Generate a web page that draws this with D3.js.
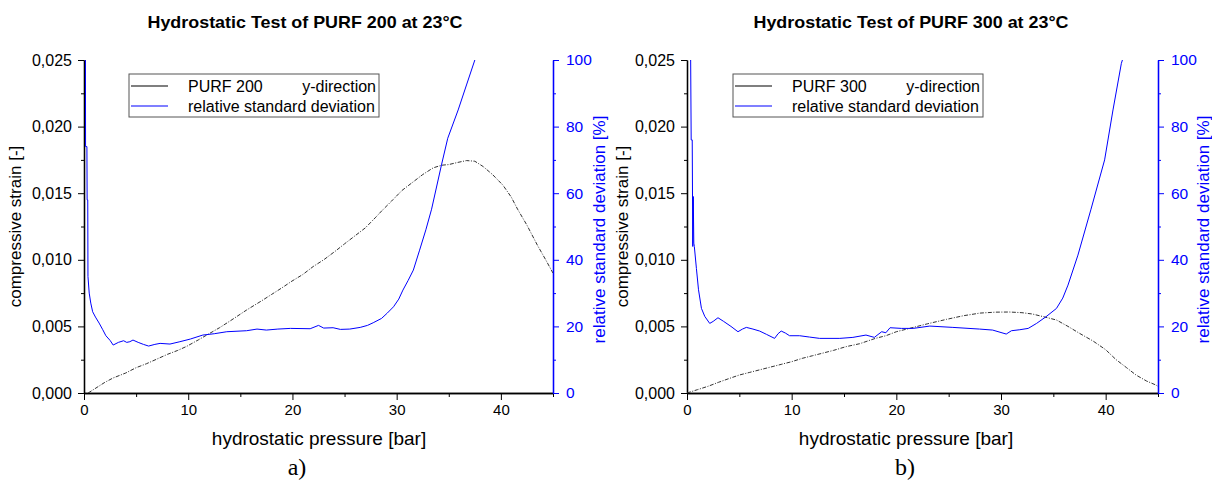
<!DOCTYPE html>
<html>
<head>
<meta charset="utf-8">
<script src="https://cdn.jsdelivr.net/npm/d3@7"></script>
<style>
  body { margin: 0; background: #fff; }
</style>
</head>
<body>
<div id="chart"></div>
<script>
// ---- data ----
const pressureTicks = [0, 10, 20, 30, 40];
const pressureMinor = [5, 15, 25, 35, 45];
const strainTicks = [0, 0.005, 0.010, 0.015, 0.020, 0.025];
const strainMinor = [0.0025, 0.0075, 0.0125, 0.0175, 0.0225];
const rsdTicks = [0, 20, 40, 60, 80, 100];
const rsdMinor = [10, 30, 50, 70, 90];

// PURF 200, compressive strain in y-direction
const p200StrainX = [0.4, 1, 2, 2.8, 4, 5, 6, 7, 8, 9, 9.85, 11, 12, 13, 14, 15.6, 17, 18, 19, 19.95,
  21, 22, 23, 24.2, 25, 26, 27, 28, 28.6, 29.5, 30.5, 31.5, 32.5, 33.5, 34.3, 35, 35.8, 36.7, 37.5,
  38.3, 39.2, 40.2, 41, 41.6, 42.5, 43.5, 44.3, 45];
const p200Strain = [0, 0.0003, 0.0008, 0.00113, 0.0015, 0.0019, 0.0022, 0.00255, 0.0029, 0.0032, 0.0035,
  0.0040, 0.00445, 0.0049, 0.0054, 0.00623, 0.0069, 0.0074, 0.0079, 0.0084,
  0.0089, 0.0095, 0.0100, 0.0107, 0.0112, 0.0118, 0.0124, 0.0132, 0.0137, 0.0144, 0.0152, 0.0158, 0.0164,
  0.0169, 0.0171, 0.01715, 0.0173, 0.01745, 0.0174, 0.0170, 0.0164, 0.0156, 0.0147, 0.0138, 0.0126,
  0.0111, 0.0100, 0.0090];

// PURF 200, relative standard deviation
const p200RsdX = [0.1, 0.14, 0.15, 0.28, 0.3, 0.36, 0.38, 0.5, 0.65, 0.83, 1.1, 1.45, 1.8, 2.1, 2.5, 2.8,
  3.3, 3.8, 4.1, 4.4, 4.7, 5.2, 5.7, 6.2, 6.8, 7.3, 8.25, 9.2, 10.2, 11.4, 12.5, 13.7, 15.6, 16.6, 17.5,
  18.6, 19.8, 21.7, 22.5, 23, 23.9, 24.6, 25.5, 26.5, 27.2, 27.75, 28.55, 29.1, 29.7, 30.2, 30.6, 31.1,
  31.6, 32.2, 32.8, 33.35, 34.3, 34.9, 35.9, 36.7, 37.5];
const p200Rsd = [100, 100, 74, 74, 58, 58, 35, 30, 27, 24.4, 22.8, 21, 19, 17.2, 15.8, 14.4,
  15.2, 15.7, 15.2, 15.4, 15.9, 15.2, 14.6, 14.1, 14.6, 14.9, 14.7, 15.4, 16.2, 17.4, 17.8, 18.4, 18.7,
  19.2, 18.9, 19.2, 19.4, 19.3, 20.3, 19.5, 19.6, 19.1, 19.2, 19.7, 20.3, 21.1, 22.4, 24, 25.9, 28.2,
  30.9, 33.8, 36.9, 42.9, 49, 55.2, 68.5, 76.5, 85, 92.5, 100];

// PURF 300, compressive strain in y-direction
const p300StrainX = [0, 1, 2, 3, 4, 5, 6, 7, 8, 9, 10, 11, 12, 13, 14, 15.2, 16.5, 18, 19, 20, 21.5, 23,
  24.8, 26.4, 28, 29.5, 30.8, 32, 33, 34.2, 35.3, 36.4, 37.5, 38.8, 40, 41, 42, 42.9, 43.9, 44.8, 45];
const p300Strain = [0, 0.00025, 0.0005, 0.0008, 0.00108, 0.00135, 0.00155, 0.00175, 0.00195, 0.00215,
  0.00235, 0.0026, 0.0028, 0.0030, 0.0032, 0.00348, 0.0037, 0.0041, 0.0043, 0.0046, 0.0049, 0.0052,
  0.00553, 0.0058, 0.0060, 0.00607, 0.00608, 0.00603, 0.00593, 0.0057, 0.00548, 0.0050, 0.00448,
  0.0039, 0.00325, 0.0025, 0.0019, 0.00135, 0.0009, 0.0006, 0.0005];

// PURF 300, relative standard deviation
const p300RsdX = [0.3, 0.35, 0.4, 0.5, 0.55, 0.6, 0.65, 0.7, 0.9, 1.1, 1.38, 1.7, 2.17, 2.5, 2.96, 3.5,
  4.2, 4.87, 5.3, 5.67, 6.3, 6.94, 7.6, 8.37, 8.7, 9.0, 9.4, 9.8, 10.76, 11.7, 12.67, 14.6, 15.85, 17.1,
  17.9, 18.6, 19.0, 19.4, 20.5, 21.6, 23.2, 25.4, 27.95, 29.2, 30.5, 31.0, 31.8, 32.6, 33.4, 34.3, 35.3,
  35.9, 36.4, 37.35, 38.6, 39.9, 40.7, 41.5, 41.6];
const p300Rsd = [100, 100, 76, 76, 44, 59, 45, 44, 37.4, 31, 25.4, 23, 20.9, 21.5, 22.6, 21.5,
  20, 18.4, 19.2, 19.7, 19.2, 18.6, 17.6, 16.4, 17.8, 18.6, 18, 17.2, 17.2, 16.8, 16.4, 16.4, 16.7, 17.4,
  16.7, 18.4, 18.1, 19.6, 19.4, 19.4, 20.1, 19.7, 19.2, 18.9, 17.7, 18.7, 19, 19.4, 20.9, 22.9, 25.4,
  28.5, 32.4, 41.4, 55.2, 70, 85, 99, 100];

// ---- layout ----
const width = 1212, height = 482;
const plotTop = 60, plotBottom = 393;
const blue = '#0000ff';
const font = '"Liberation Sans", Arial, sans-serif';

const svg = d3.select('#chart').append('svg')
  .attr('width', width)
  .attr('height', height)
  .style('font-family', font);

const commaLocale = d3.formatLocale({decimal: ',', thousands: '.', grouping: [3], currency: ['', '']});
const strainFormat = commaLocale.format('.3f');

function zip(xs, ys) {
  return xs.map(function(d, i) { return {x: d, y: ys[i]}; });
}

function drawPanel(p) {
  let xScale = d3.scaleLinear().domain([0, 45]).range([p.left, p.right]);
  let yStrain = d3.scaleLinear().domain([0, 0.025]).range([plotBottom, plotTop]);
  let yRsd = d3.scaleLinear().domain([0, 100]).range([plotBottom, plotTop]);

  let g = svg.append('g');

  g.append('clipPath').attr('id', p.id + '-clip')
    .append('rect')
    .attr('x', p.left).attr('y', plotTop)
    .attr('width', p.right - p.left).attr('height', plotBottom - plotTop);

  // axes: minor ticks first, then majors with labels
  g.append('g')
    .attr('transform', 'translate(0,' + plotBottom + ')')
    .call(d3.axisBottom(xScale).tickValues(pressureMinor).tickSize(4).tickSizeOuter(0).tickFormat(''));
  g.append('g')
    .attr('class', 'xaxis')
    .attr('transform', 'translate(0,' + plotBottom + ')')
    .call(d3.axisBottom(xScale).tickValues(pressureTicks).tickSize(7).tickSizeOuter(0).tickPadding(4));

  g.append('g')
    .attr('transform', 'translate(' + p.left + ',0)')
    .call(d3.axisLeft(yStrain).tickValues(strainMinor).tickSize(3).tickSizeOuter(0).tickFormat(''));
  g.append('g')
    .attr('class', 'yaxis')
    .attr('transform', 'translate(' + p.left + ',0)')
    .call(d3.axisLeft(yStrain).tickValues(strainTicks).tickSize(6).tickSizeOuter(0).tickPadding(6)
      .tickFormat(strainFormat));

  g.append('g')
    .attr('color', blue)
    .attr('transform', 'translate(' + p.right + ',0)')
    .call(d3.axisRight(yRsd).tickValues(rsdMinor).tickSize(3).tickSizeOuter(0).tickFormat(''));
  g.append('g')
    .attr('class', 'raxis')
    .attr('color', blue)
    .attr('transform', 'translate(' + p.right + ',0)')
    .call(d3.axisRight(yRsd).tickValues(rsdTicks).tickSize(6).tickSizeOuter(0).tickPadding(7));

  g.selectAll('.domain').attr('stroke-width', 1.3);
  g.selectAll('.xaxis text').style('font-size', '15px').style('font-family', font).attr('fill', '#000');
  g.selectAll('.yaxis text').style('font-size', '16px').style('font-family', font).attr('fill', '#000');
  g.selectAll('.raxis text').style('font-size', '15.5px').style('font-family', font);

  // curves
  let strainLine = d3.line()
    .x(function(d) { return xScale(d.x); })
    .y(function(d) { return yStrain(d.y); });
  let rsdLine = d3.line()
    .x(function(d) { return xScale(d.x); })
    .y(function(d) { return yRsd(d.y); });

  let plot = g.append('g').attr('clip-path', 'url(#' + p.id + '-clip)');
  plot.append('path')
    .attr('fill', 'none')
    .attr('stroke', '#333')
    .attr('stroke-width', 1)
    .attr('stroke-dasharray', '4,1.5,1,1.5')
    .attr('d', strainLine(zip(p.strainX, p.strain)));
  plot.append('path')
    .attr('fill', 'none')
    .attr('stroke', blue)
    .attr('stroke-width', 1)
    .attr('d', rsdLine(zip(p.rsdX, p.rsd)));

  // titles
  g.append('text')
    .attr('x', p.titleX).attr('y', 28)
    .attr('text-anchor', 'middle')
    .attr('textLength', 315).attr('lengthAdjust', 'spacingAndGlyphs')
    .style('font-size', '17px').style('font-weight', 'bold')
    .text(p.title);
  g.append('text')
    .attr('x', p.axisTitleX).attr('y', 445)
    .attr('text-anchor', 'middle')
    .style('font-size', '19px')
    .text('hydrostatic pressure [bar]');
  g.append('text')
    .attr('x', p.captionX).attr('y', 475)
    .attr('text-anchor', 'middle')
    .style('font-family', '"Liberation Serif", "Times New Roman", serif')
    .style('font-size', '24px')
    .text(p.caption);
  g.append('text')
    .attr('transform', 'translate(' + p.strainTitleX + ',' + ((plotTop + plotBottom) / 2) + ') rotate(-90)')
    .attr('text-anchor', 'middle')
    .style('font-size', '17px')
    .text('compressive strain [-]');
  g.append('text')
    .attr('transform', 'translate(' + p.rsdTitleX + ',' + ((plotTop + plotBottom) / 2 + 3) + ') rotate(-90)')
    .attr('text-anchor', 'middle')
    .attr('fill', blue)
    .style('font-size', '17px')
    .text('relative standard deviation [%]');

  // legend
  let lg = g.append('g').attr('transform', 'translate(' + p.legendX + ',74)');
  lg.append('rect')
    .attr('width', 250).attr('height', 43)
    .attr('fill', '#fff').attr('stroke', '#555').attr('stroke-width', 1);
  lg.append('line').attr('x1', 2).attr('x2', 39).attr('y1', 12).attr('y2', 12)
    .attr('stroke', '#000').attr('stroke-width', 1.2);
  lg.append('line').attr('x1', 2).attr('x2', 39).attr('y1', 32).attr('y2', 32)
    .attr('stroke', blue).attr('stroke-width', 1.2);
  lg.append('text').attr('x', 59).attr('y', 18).style('font-size', '16px').text(p.legendName);
  lg.append('text').attr('x', 247).attr('y', 18).attr('text-anchor', 'end').style('font-size', '16px').text('y-direction');
  lg.append('text').attr('x', 59).attr('y', 38).style('font-size', '16px').text('relative standard deviation');
}

drawPanel({
  id: 'a', left: 84, right: 553,
  strainX: p200StrainX, strain: p200Strain, rsdX: p200RsdX, rsd: p200Rsd,
  title: 'Hydrostatic Test of PURF 200 at 23°C', titleX: 305,
  axisTitleX: 319, caption: 'a)', captionX: 297,
  strainTitleX: 21, rsdTitleX: 605,
  legendX: 129, legendName: 'PURF 200'
});

drawPanel({
  id: 'b', left: 687, right: 1158,
  strainX: p300StrainX, strain: p300Strain, rsdX: p300RsdX, rsd: p300Rsd,
  title: 'Hydrostatic Test of PURF 300 at 23°C', titleX: 911,
  axisTitleX: 906, caption: 'b)', captionX: 905,
  strainTitleX: 628, rsdTitleX: 1209,
  legendX: 733, legendName: 'PURF 300'
});
</script>
</body>
</html>
